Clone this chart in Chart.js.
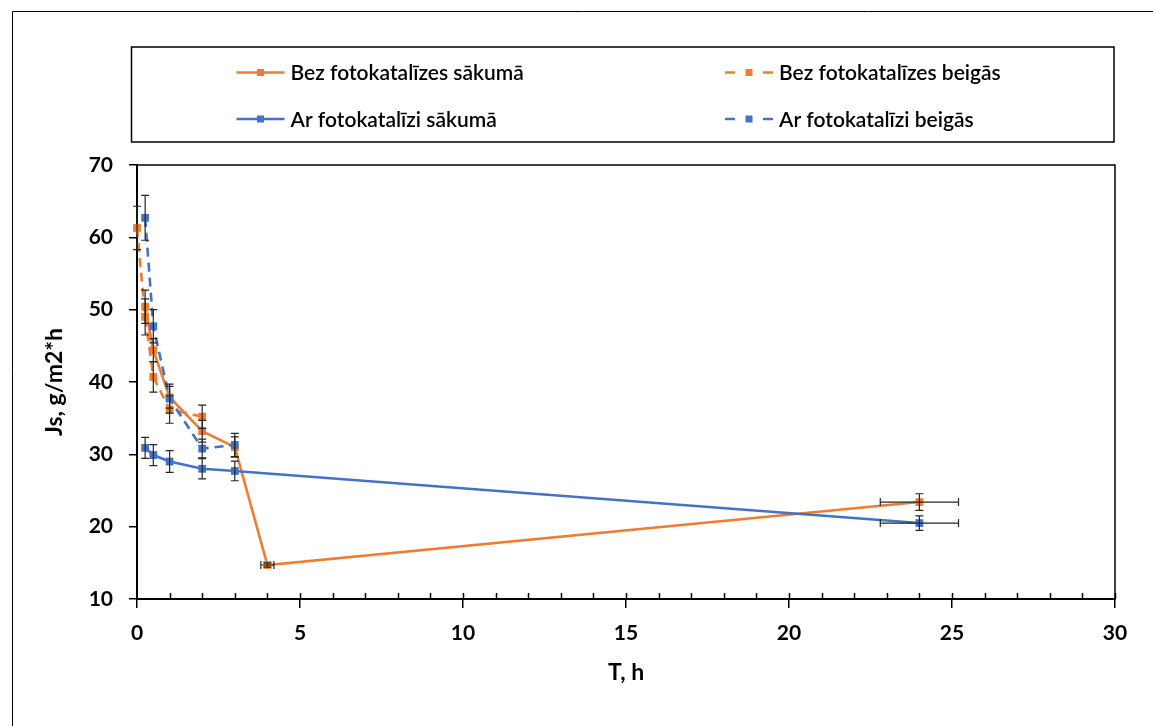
<!DOCTYPE html>
<html>
<head>
<meta charset="utf-8">
<script src="https://cdn.jsdelivr.net/npm/chart.js@4.4.0/dist/chart.umd.min.js"></script>
<style>
html, body { margin: 0; padding: 0; background: #fff; }
#wrap { width: 1153px; height: 726px; }
</style>
</head>
<body>
<div id="wrap"><canvas id="chart" width="1153" height="726"></canvas></div>
<script>
// Dati (nolasīti no attēla)
const bezSakumaT = [0.25, 0.5, 1, 2, 3, 4, 24];
const bezSakumaJs = [50.4, 44.4, 37.9, 33.2, 31.0, 14.7, 23.4];
const bezSakumaErrY = [2.3, 1.6, 1.5, 1.5, 1.4, 0.3, 1.15];
const bezSakumaErrX = [0, 0, 0, 0, 0, 0.2, 1.2];

const bezBeigasT = [0, 0.25, 0.5, 1, 2];
const bezBeigasJs = [61.3, 49.0, 40.7, 36.2, 35.2];
const bezBeigasErrY = [3.0, 2.5, 2.1, 1.9, 1.6];

const arSakumaT = [0.25, 0.5, 1, 2, 3, 24];
const arSakumaJs = [30.9, 29.9, 29.0, 28.0, 27.7, 20.5];
const arSakumaErrY = [1.45, 1.45, 1.5, 1.4, 1.35, 1.0];
const arSakumaErrX = [0, 0, 0, 0, 0, 1.2];

const arBeigasT = [0.25, 0.5, 1, 2, 3];
const arBeigasJs = [62.7, 47.7, 37.7, 30.8, 31.3];
const arBeigasErrY = [3.1, 2.3, 2.0, 1.3, 1.6];

const xTicks = [0, 5, 10, 15, 20, 25, 30];
const yTicks = [10, 20, 30, 40, 50, 60, 70];

const ORANGE = '#ED7D31';
const BLUE = '#4472C4';
const FONT = 'Lato, "Open Sans", sans-serif';

function points(ts, vals) {
    return ts.map((t, i) => ({ x: t, y: vals[i] }));
}

function series(label, ts, vals, color, dashed, order, errY, errX) {
    return {
        label: label,
        data: points(ts, vals),
        showLine: true,
        clip: false,
        borderColor: color,
        backgroundColor: color,
        borderWidth: 2.6,
        borderDash: dashed ? [9, 6] : [],
        pointStyle: 'rect',
        pointRadius: 5.5,
        pointBorderWidth: 0,
        pointBackgroundColor: color,
        tension: 0,
        order: order,
        errY: errY,
        errX: errX || [],
        dashed: dashed
    };
}

const datasets = [
    series('Bez fotokatalīzes sākumā', bezSakumaT, bezSakumaJs, ORANGE, false, 4, bezSakumaErrY, bezSakumaErrX),
    series('Bez fotokatalīzes beigās', bezBeigasT, bezBeigasJs, ORANGE, true, 3, bezBeigasErrY),
    series('Ar fotokatalīzi sākumā', arSakumaT, arSakumaJs, BLUE, false, 2, arSakumaErrY, arSakumaErrX),
    series('Ar fotokatalīzi beigās', arBeigasT, arBeigasJs, BLUE, true, 1, arBeigasErrY)
];

// rāmis, iekšējās iedaļas, kļūdu joslas un leģenda
const extras = {
    id: 'extras',
    beforeDraw(chart) {
        const ctx = chart.ctx;
        ctx.save();
        ctx.fillStyle = '#fff';
        ctx.fillRect(0, 0, chart.width, chart.height);
        ctx.strokeStyle = '#000';
        ctx.lineWidth = 1;
        ctx.beginPath();
        ctx.moveTo(12.5, chart.height + 5);
        ctx.lineTo(12.5, 11.5);
        ctx.lineTo(chart.width + 5, 11.5);
        ctx.stroke();
        ctx.restore();
    },
    beforeDatasetsDraw(chart) {
        const ctx = chart.ctx;
        const a = chart.chartArea;
        const xs = chart.scales.x;
        ctx.save();
        ctx.strokeStyle = '#000';
        ctx.lineWidth = 1.5;
        ctx.strokeRect(a.left, a.top, a.right - a.left, a.bottom - a.top);
        // iedaļas uz iekšu ik pa 1 h
        ctx.beginPath();
        for (let v = 1; v <= 30; v++) {
            const px = Math.round(xs.getPixelForValue(v)) + 0.5;
            ctx.moveTo(px, a.bottom);
            ctx.lineTo(px, a.bottom - 6);
        }
        ctx.stroke();
        ctx.restore();
    },
    afterDatasetsDraw(chart) {
        const ctx = chart.ctx;
        const xs = chart.scales.x;
        const ys = chart.scales.y;
        ctx.save();
        ctx.lineWidth = 1.2;
        ctx.strokeStyle = '#262626';
        chart.data.datasets.forEach(ds => {
            ds.data.forEach((p, i) => {
                const px = xs.getPixelForValue(p.x);
                const py = ys.getPixelForValue(p.y);
                const ey = ds.errY[i] || 0;
                const ex = ds.errX[i] || 0;
                ctx.beginPath();
                if (ey) {
                    const y1 = ys.getPixelForValue(p.y + ey);
                    const y2 = ys.getPixelForValue(p.y - ey);
                    ctx.moveTo(px, y1); ctx.lineTo(px, y2);
                    ctx.moveTo(px - 4, y1); ctx.lineTo(px + 4, y1);
                    ctx.moveTo(px - 4, y2); ctx.lineTo(px + 4, y2);
                }
                if (ex) {
                    const x1 = xs.getPixelForValue(p.x - ex);
                    const x2 = xs.getPixelForValue(p.x + ex);
                    ctx.moveTo(x1, py); ctx.lineTo(x2, py);
                    ctx.moveTo(x1, py - 4); ctx.lineTo(x1, py + 4);
                    ctx.moveTo(x2, py - 4); ctx.lineTo(x2, py + 4);
                }
                ctx.stroke();
            });
        });
        ctx.restore();
    },
    afterDraw(chart) {
        const ctx = chart.ctx;
        ctx.save();
        ctx.strokeStyle = '#000';
        ctx.lineWidth = 1.5;
        ctx.strokeRect(131.5, 47, 982.5, 95);
        const cols = [236.5, 725];
        const rows = [72.5, 119];
        ctx.font = '600 21px ' + FONT;
        ctx.textBaseline = 'middle';
        ctx.textAlign = 'left';
        chart.data.datasets.forEach((ds, i) => {
            const x = cols[i % 2];
            const y = rows[Math.floor(i / 2)];
            ctx.strokeStyle = ds.borderColor;
            ctx.fillStyle = ds.borderColor;
            ctx.lineWidth = 2.5;
            ctx.beginPath();
            if (ds.dashed) {
                ctx.moveTo(x, y); ctx.lineTo(x + 10, y);
                ctx.moveTo(x + 38, y); ctx.lineTo(x + 48, y);
            } else {
                ctx.moveTo(x, y); ctx.lineTo(x + 48, y);
            }
            ctx.stroke();
            ctx.fillRect(x + 24 - 3.5, y - 3.5, 7, 7);
            ctx.fillStyle = '#000';
            ctx.fillText(ds.label, x + 54, y + 1);
        });
        ctx.restore();
    }
};

const tickFont = { family: FONT, size: 21, weight: 'bold' };
const titleFont = { family: FONT, size: 23, weight: 'bold' };

new Chart(document.getElementById('chart'), {
    type: 'scatter',
    data: { datasets: datasets },
    options: {
        responsive: false,
        animation: false,
        events: [],
        layout: { padding: { left: 0, top: 165, right: 38, bottom: 0 } },
        plugins: { legend: { display: false }, tooltip: { enabled: false } },
        scales: {
            x: {
                type: 'linear',
                min: xTicks[0],
                max: xTicks[xTicks.length - 1],
                afterBuildTicks: s => { s.ticks = xTicks.map(v => ({ value: v })); },
                afterFit: s => { s.height = 127; },
                ticks: { font: tickFont, color: '#000', padding: 13, maxRotation: 0 },
                grid: { drawOnChartArea: false, tickLength: 9, color: '#000', lineWidth: 1.5 },
                border: { display: true, color: '#000', width: 2 },
                title: { display: true, text: 'T, h', font: titleFont, color: '#000', padding: { top: 0, bottom: 40 } }
            },
            y: {
                type: 'linear',
                min: yTicks[0],
                max: yTicks[yTicks.length - 1],
                afterBuildTicks: s => { s.ticks = yTicks.map(v => ({ value: v })); },
                afterFit: s => { s.width = 137; },
                ticks: { font: tickFont, color: '#000', padding: 16 },
                grid: { drawOnChartArea: false, tickLength: 8, color: '#000', lineWidth: 1.5 },
                border: { display: true, color: '#000', width: 2 },
                title: { display: true, text: 'Js, g/m2*h', font: titleFont, color: '#000', padding: { top: 41, bottom: 0 } }
            }
        }
    },
    plugins: [extras]
});
</script>
</body>
</html>
